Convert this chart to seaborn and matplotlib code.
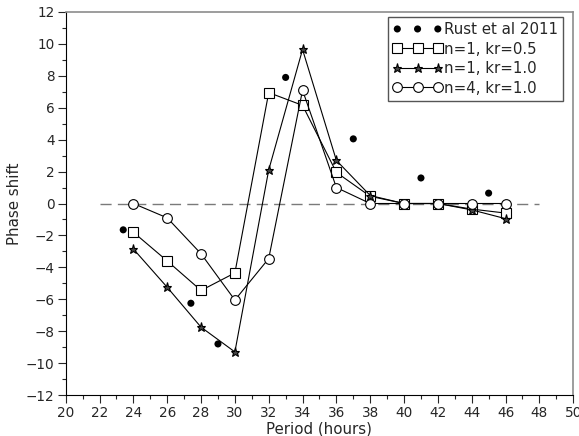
import matplotlib
matplotlib.use("Agg")
import matplotlib.pyplot as plt
from matplotlib.ticker import MultipleLocator
import seaborn as sns
import pandas as pd

# Rust et al 2011 measurements
rust_period = [23.4, 27.4, 29.0, 33.0, 37.0, 41.0, 45.0]
rust_shift = [-1.65, -6.25, -8.8, 7.9, 4.05, 1.6, 0.65]

# model curves
period = [24, 26, 28, 30, 32, 34, 36, 38, 40, 42, 44, 46]
n1_kr05 = [-1.8, -3.6, -5.45, -4.35, 6.95, 6.15, 1.95, 0.45, 0.0, 0.0, -0.35, -0.6]
n1_kr10 = [-2.85, -5.25, -7.75, -9.3, 2.1, 9.65, 2.7, 0.5, 0.0, 0.0, -0.4, -0.95]
n4_kr10 = [0.0, -0.9, -3.15, -6.05, -3.45, 7.1, 1.0, 0.0, 0.0, 0.0, 0.0, 0.0]

labels = ["Rust et al 2011", "n=1, kr=0.5", "n=1, kr=1.0", "n=4, kr=1.0"]

sns.set_style("ticks")
plt.rcParams["font.family"] = ["DejaVu Sans"]

fig = plt.figure(figsize=(5.79, 4.36), dpi=100)
ax = fig.add_axes([0.1135, 0.094, 0.8765, 0.8785])

ax.hlines(0, 22, 48, colors="#7a7a7a", linestyles=(0, (8, 4.5)), linewidth=1.0, zorder=1)

sns.scatterplot(x=rust_period, y=rust_shift, color="black", s=26, edgecolor="none",
                label=labels[0], ax=ax, zorder=4)

line_kw = dict(color="black", linewidth=0.8, markeredgecolor="black",
               markeredgewidth=0.8, zorder=3)
df = pd.DataFrame({"period": period, "a": n1_kr05, "b": n1_kr10, "c": n4_kr10})
sns.lineplot(data=df, x="period", y="a", marker="s", markersize=6.5,
             markerfacecolor="white", label=labels[1], ax=ax, **line_kw)
sns.lineplot(data=df, x="period", y="b", marker="*", markersize=6.5,
             markerfacecolor="#444444", label=labels[2], ax=ax, **line_kw)
sns.lineplot(data=df, x="period", y="c", marker="o", markersize=7,
             markerfacecolor="white", label=labels[3], ax=ax, **line_kw)

ax.set_xlim(20, 50)
ax.set_ylim(-12, 12)
ax.xaxis.set_major_locator(MultipleLocator(2))
ax.xaxis.set_minor_locator(MultipleLocator(1))
ax.yaxis.set_major_locator(MultipleLocator(2))
ax.yaxis.set_minor_locator(MultipleLocator(1))
ax.tick_params(which="major", direction="out", length=6, width=0.8, labelsize=9.8, pad=2)
ax.tick_params(which="minor", direction="out", length=3, width=0.8)
ax.set_xlabel("Period (hours)", fontsize=10.8, labelpad=1)
ax.set_ylabel("Phase shift", fontsize=10.8, labelpad=3)

for side in ["left", "bottom"]:
    ax.spines[side].set_color("black")
    ax.spines[side].set_linewidth(0.8)
for side in ["top", "right"]:
    ax.spines[side].set_color("#8c8c8c")
    ax.spines[side].set_linewidth(1.2)

handles, lbls = ax.get_legend_handles_labels()
leg = ax.legend(handles, lbls, loc="upper right", bbox_to_anchor=(0.98, 0.987),
                numpoints=3, scatterpoints=3, scatteryoffsets=[0.5], fontsize=10.8,
                handlelength=3.3, handletextpad=0.1, labelspacing=0.3, borderpad=0.35,
                borderaxespad=0, fancybox=False, frameon=True, edgecolor="#555555",
                framealpha=1)
leg.get_frame().set_linewidth(1.0)

fig.savefig("out.png", dpi=100)
